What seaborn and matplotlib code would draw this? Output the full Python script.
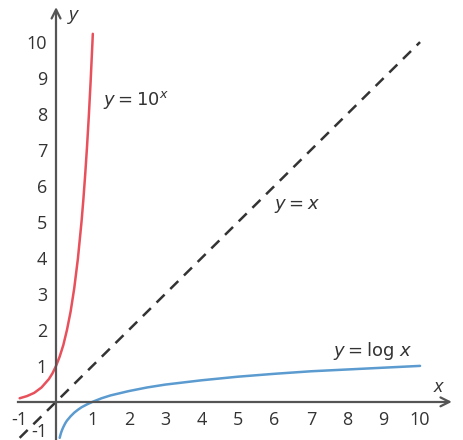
import matplotlib
matplotlib.use("Agg")
import matplotlib.pyplot as plt
import matplotlib.transforms as mtransforms
import seaborn as sns

# values
exp_x = [-1.0, -0.8, -0.6, -0.4, -0.2, -0.1, 0.0, 0.1, 0.2, 0.3, 0.4, 0.5,
         0.6, 0.7, 0.75, 0.8, 0.85, 0.9, 0.95, 1.0, 1.01]
exp_y = [0.10, 0.16, 0.25, 0.40, 0.63, 0.79, 1.00, 1.26, 1.58, 2.00, 2.51,
         3.16, 3.98, 5.01, 5.62, 6.31, 7.08, 7.94, 8.91, 10.0, 10.23]

log_x = [0.1, 0.11, 0.12, 0.14, 0.17, 0.2, 0.25, 0.3, 0.35, 0.4, 0.5, 0.6,
         0.7, 0.85, 1.0, 1.25, 1.5, 1.75, 2, 2.5, 3, 3.5, 4, 4.5, 5, 6, 7,
         8, 9, 10]
log_y = [-1.00, -0.96, -0.92, -0.85, -0.77, -0.70, -0.60, -0.52, -0.46,
         -0.40, -0.30, -0.22, -0.15, -0.07, 0.00, 0.10, 0.18, 0.24, 0.30,
         0.40, 0.48, 0.54, 0.60, 0.65, 0.70, 0.78, 0.85, 0.90, 0.95, 1.00]

id_x = [-1, 10]
id_y = [-1, 10]

ticks = [-1, 1, 2, 3, 4, 5, 6, 7, 8, 9, 10]

sns.set_style("white")
plt.rcParams['font.family'] = ['Open Sans', 'DejaVu Sans']

fig = plt.figure(figsize=(4.63, 4.40), dpi=100)
ax = fig.add_axes([0, 0, 1, 1])

axis_col = '#555555'

sns.lineplot(x=id_x, y=id_y, color='#333333', linewidth=1.8, ax=ax,
             sort=False, estimator=None)
ax.lines[-1].set_dashes([4.5, 3.2])
sns.lineplot(x=exp_x, y=exp_y, color='#e8505b', linewidth=1.8, ax=ax,
             sort=False, estimator=None)
sns.lineplot(x=log_x, y=log_y, color='#5b9bcf', linewidth=1.8, ax=ax,
             sort=False, estimator=None)

ax.set_xlim(-1.54, 11.18)
ax.set_ylim(-1.06, 11.17)

# axes through the origin
for s in ['top', 'right']:
    ax.spines[s].set_visible(False)
ax.spines['left'].set_position(('data', 0))
ax.spines['bottom'].set_position(('data', 0))
ax.spines['bottom'].set_bounds(-1.05, 10.75)
ax.spines['left'].set_bounds(-1.06, 10.85)
for s in ['left', 'bottom']:
    ax.spines[s].set_color(axis_col)
    ax.spines[s].set_linewidth(1.6)

ax.annotate('', xy=(10.95, 0), xytext=(10.6, 0),
            arrowprops=dict(arrowstyle='->', color=axis_col, lw=1.6,
                            mutation_scale=16))
ax.annotate('', xy=(0, 11.05), xytext=(0, 10.7),
            arrowprops=dict(arrowstyle='->', color=axis_col, lw=1.6,
                            mutation_scale=16))

ax.set_xticks(ticks)
ax.set_yticks(ticks)
ax.set_xticklabels([str(t) for t in ticks])
ax.set_yticklabels([str(t) for t in ticks])
ax.tick_params(axis='both', direction='inout', length=5, width=1.2,
               color=axis_col, labelsize=13, labelcolor='#333333', pad=4)
ax.grid(False)

# lift the -1 label on y so it stays inside the picture
lab = ax.get_yticklabels()[0]
lab.set_transform(lab.get_transform() +
                  mtransforms.ScaledTranslation(0, 6 / 72, fig.dpi_scale_trans))

ax.text(0.35, 10.75, 'y', fontsize=14, style='italic', color='#333333',
        ha='left', va='center')
ax.text(10.5, 0.42, 'x', fontsize=14, style='italic', color='#333333',
        ha='center', va='center')

ax.text(1.28, 8.4, r'$y = 10^{x}$', fontsize=13, color='#333333',
        ha='left', va='center')
ax.text(6.0, 5.45, r'$y = x$', fontsize=13, color='#333333',
        ha='left', va='center')
ax.text(7.6, 1.4, r'$y = \log\, x$', fontsize=13, color='#333333',
        ha='left', va='center')

fig.savefig('out.png', dpi=100, facecolor='white')
